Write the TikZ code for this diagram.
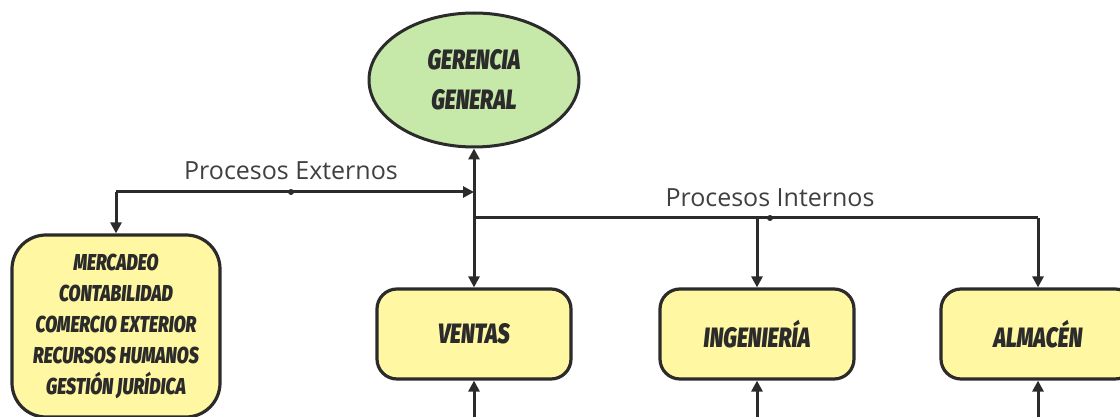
\documentclass[tikz,border=0pt]{standalone}
\usepackage{fontspec}
\setmainfont{Open Sans}
\newfontfamily\headfont[FakeStretch=0.76, BoldItalicFont={* Black Italic}]{Fira Sans}
\usetikzlibrary{shapes.geometric,arrows.meta}

\definecolor{inkline}{HTML}{2B2B2B}
\definecolor{labelgray}{HTML}{404040}
\definecolor{leaf}{HTML}{C6E8A9}
\definecolor{butter}{HTML}{FFF7A1}

\tikzset{
  unitbox/.style={draw=inkline, line width=3.2pt, fill=butter, rounded corners=20pt,
    minimum width=194pt, minimum height=90pt, inner sep=0pt,
    font=\headfont\bfseries\itshape\fontsize{28}{30}\selectfont, text=inkline},
  link/.style={draw=inkline, line width=3pt,
    -{Triangle[length=11pt,width=11pt]}},
  twoway/.style={link, {Triangle[length=11pt,width=11pt]}-{Triangle[length=11pt,width=11pt]}},
  flowlabel/.style={font=\fontsize{25}{28}\selectfont, text=labelgray, inner sep=0pt},
  joint/.style={circle, fill=inkline, inner sep=0pt, minimum size=6pt}
}

\begin{document}
\begin{tikzpicture}[x=1pt, y=-1pt]
  \useasboundingbox (0,0) rectangle (1120,417);
  \clip (0,0) rectangle (1120,417);

  % top management
  \node[ellipse, draw=inkline, line width=3pt, fill=leaf,
        minimum width=210pt, minimum height=134pt, inner sep=0pt,
        align=center, text=inkline,
        font=\headfont\bfseries\itshape\fontsize{28}{40}\selectfont]
    (gg) at (474,80) {GERENCIA\\GENERAL};

  % support areas
  \node[draw=inkline, line width=3.2pt, fill=butter, rounded corners=34pt,
        minimum width=208pt, minimum height=182pt, inner sep=0pt,
        align=center, text=inkline,
        font=\headfont\bfseries\itshape\fontsize{23}{31}\selectfont]
    (ext) at (116,326) {MERCADEO\\CONTABILIDAD\\COMERCIO EXTERIOR\\RECURSOS HUMANOS\\GESTIÓN JURÍDICA};

  % operating units
  \node[unitbox] (ventas) at (474,334) {VENTAS};
  \node[unitbox] (ing)    at (757,334) {INGENIERÍA};
  \node[unitbox] (alm)    at (1038,334) {ALMACÉN};

  % junction points
  \coordinate (trunkExt) at (474,192);
  \coordinate (trunkInt) at (474,218);
  \coordinate (extCorner) at (116,192);
  \coordinate (intIng) at (757,218);
  \coordinate (intAlm) at (1038,218);
  \node[joint] (extMid) at (291,192) {};
  \node[joint] (intMid) at (770,218) {};

  % labels
  \node[flowlabel] (extLabel) at (291,171) {Procesos Externos};
  \node[flowlabel] (intLabel) at (770,198) {Procesos Internos};

  % main trunk
  \draw[twoway] (gg.south) -- (ventas.north);

  % external processes
  \draw[link] (ext.north |- extCorner) -- (trunkExt);
  \draw[link] (extCorner) -- (ext.north);

  % internal processes
  \draw[draw=inkline, line width=3pt] (trunkInt) -- (intAlm);
  \draw[link] (intIng) -- (ing.north);
  \draw[link] (intAlm) -- (alm.north);

  % feeds from below
  \coordinate (inV) at (474,440);
  \coordinate (inI) at (757,440);
  \coordinate (inA) at (1038,440);
  \draw[link] (inV) -- (ventas.south);
  \draw[link] (inI) -- (ing.south);
  \draw[link] (inA) -- (alm.south);
\end{tikzpicture}
\end{document}
